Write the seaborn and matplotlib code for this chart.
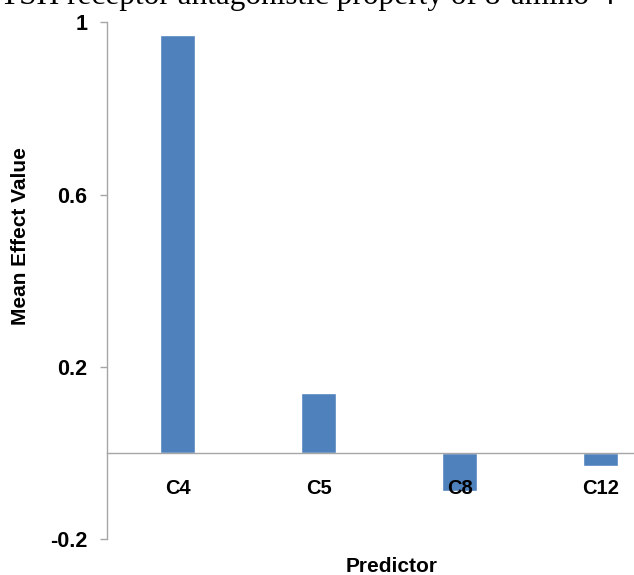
# Mean effect value per predictor - bar chart remake
import matplotlib
matplotlib.use("Agg")
import matplotlib.pyplot as plt
import seaborn as sns
import pandas as pd

# data
predictors = ["C4", "C5", "C8", "C12"]
effects = [0.97, 0.14, -0.088, -0.03]
y_ticks = [-0.2, 0.2, 0.6, 1.0]
y_tick_labels = ["-0.2", "0.2", "0.6", "1"]
caption = "TSH receptor antagonistic property of 8-amino-4"

sns.set_style("white")
plt.rcParams["font.family"] = ["Liberation Sans", "DejaVu Sans"]

df = pd.DataFrame({"Predictor": predictors, "Mean Effect Value": effects})

fig = plt.figure(figsize=(6.34, 5.75), dpi=100)
# plot area runs off the right edge, as in the cropped original
ax = fig.add_axes([0.1688, 0.0626, 0.8896, 0.8983])

sns.barplot(data=df, x="Predictor", y="Mean Effect Value", order=predictors,
            color="#4F81BD", saturation=1, width=0.25, errorbar=None, ax=ax)

ax.set_ylim(-0.2, 1.0)
ax.set_xlim(-0.5, 3.5)
ax.set_yticks(y_ticks)
ax.set_yticklabels(y_tick_labels)
# axis (and its labels) drawn over the bars, so "C8" sits on top of its bar
ax.set_axisbelow(False)

# category axis crosses at zero
grey = "#A6A6A6"
ax.spines["bottom"].set_position(("data", 0))
ax.spines["bottom"].set_color(grey)
ax.spines["left"].set_color(grey)
ax.spines["top"].set_visible(False)
ax.spines["right"].set_visible(False)
for sp in ("bottom", "left"):
    ax.spines[sp].set_linewidth(1.0)

ax.tick_params(axis="x", length=0, pad=19, labelsize=14.5, labelcolor="black")
ax.tick_params(axis="y", left=True, direction="out", length=5, width=1,
               color=grey, pad=9, labelsize=15.5, labelcolor="black")
for lab in ax.get_xticklabels() + ax.get_yticklabels():
    lab.set_fontweight("bold")

ax.set_xlabel("Predictor", fontsize=15, fontweight="bold", va="center",
              color="black")
ax.xaxis.set_label_coords(0.505, -0.054)
ax.set_ylabel("")
fig.text(21 / 634, 1 - 236 / 575, "Mean Effect Value", rotation=90,
         ha="center", va="center", fontsize=15, fontweight="bold",
         color="black")

# cut-off caption line from the page above the chart
fig.text(0, 1 - 4 / 575, caption, ha="left", va="baseline",
         fontsize=22.5, color="black",
         family=["Liberation Serif", "DejaVu Serif"])

fig.savefig("out.png", dpi=100)
